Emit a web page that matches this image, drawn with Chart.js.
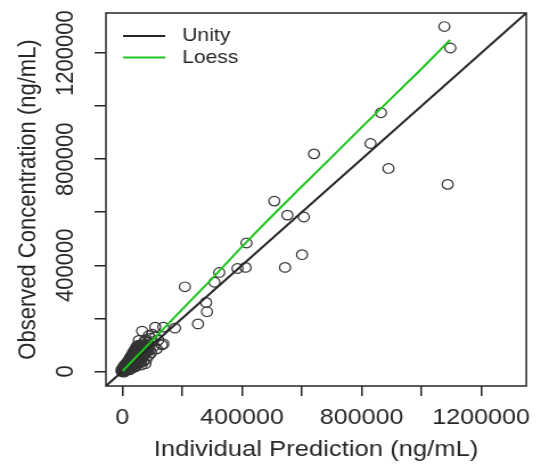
<!DOCTYPE html>
<html>
<head>
<meta charset="utf-8">
<script src="https://cdn.jsdelivr.net/npm/chart.js@4.4.1/dist/chart.umd.min.js"></script>
<style>
  html, body { margin: 0; padding: 0; background: #fff; overflow: hidden; }
  /* plot is laid out at 475px and widened to fill the 541px frame */
  #wrap { width: 475px; height: 465px; transform: scaleX(1.139); transform-origin: 0 0; }
  canvas { display: block; }
</style>
</head>
<body>
<div id="wrap"><canvas id="chart-obs-pred" width="475" height="465"></canvas></div>
<script>
// ── Axis setup ──────────────────────────────────────────────────────────────
const AXIS_MIN = -55000;
const AXIS_MAX = 1351000;
const TICK_VALUES = [0, 200000, 400000, 600000, 800000, 1000000, 1200000];
const LABELED_TICKS = [0, 400000, 800000, 1200000];

// ── Observed vs individual prediction (ng/mL): [prediction, observed] ───────
const POINTS = [
  [1000, 2000], [2000, 500], [3000, 5000], [4000, 3000], [5000, 8000], [6000, 4000],
  [7000, 9000], [8000, 6000], [9000, 12000], [10000, 7000], [11000, 14000], [12000, 10000],
  [13000, 16000], [14000, 12000], [15000, 19000], [16000, 13000], [17000, 21000], [18000, 15000],
  [19000, 23000], [20000, 18000], [21000, 26000], [22000, 19000], [23000, 28000], [24000, 22000],
  [25000, 31000], [26000, 24000], [27000, 33000], [28000, 25000], [29000, 36000], [30000, 27000],
  [31000, 38000], [32000, 30000], [33000, 40000], [34000, 31000], [35000, 44000], [36000, 34000],
  [37000, 47000], [38000, 36000], [39000, 50000], [40000, 38000], [42000, 52000], [43000, 40000],
  [44000, 55000], [45000, 43000], [47000, 58000], [48000, 46000], [50000, 62000], [51000, 48000],
  [53000, 65000], [54000, 51000], [56000, 70000], [58000, 55000], [60000, 74000], [62000, 60000],
  [64000, 80000], [66000, 63000], [68000, 85000], [70000, 68000], [72000, 92000], [75000, 72000],
  [-3000, 1000], [0, -2000], [500, 6000], [2500, 10000], [6000, 15000], [8000, 18000],
  [12000, 22000], [15000, 27000], [18000, 32000], [22000, 36000], [25000, 42000], [28000, 47000],
  [30000, 52000], [33000, 58000], [36000, 64000], [40000, 70000], [45000, 78000], [48000, 86000],
  [52000, 92000], [8000, 1000], [12000, 4000], [16000, 7000], [20000, 10000], [24000, 14000],
  [30000, 18000], [35000, 22000], [40000, 26000], [46000, 30000], [52000, 36000], [58000, 42000],
  [62000, 46000], [68000, 52000], [55000, 95000], [60000, 100000], [65000, 98000], [70000, 105000],
  [80000, 90000], [85000, 110000], [78000, 120000], [90000, 95000], [95000, 125000], [100000, 112000],
  [45000, 20000], [55000, 30000], [62000, 35000], [84000, 75000], [92000, 80000], [105000, 95000],
  [110000, 130000], [120000, 118000],
  [-2000, 8000], [1500, 13000], [4000, 17000], [7000, 23000], [10000, 26000], [13000, 30000],
  [17000, 35000], [20000, 41000], [23000, 46000], [26000, 52000], [29000, 57000], [32000, 63000],
  [35000, 69000], [38000, 75000], [42000, 82000], [46000, 90000], [50000, 98000], [3000, -1000],
  [6000, -3000], [10000, 2000], [14000, 5000], [18000, 9000], [22000, 13000], [27000, 16000],
  [32000, 21000], [37000, 27000], [42000, 32000], [48000, 37000], [54000, 42000], [60000, 50000],
  [66000, 56000], [72000, 62000], [78000, 68000], [74000, 82000], [78000, 95000], [82000, 100000],
  [86000, 88000], [58000, 85000], [62000, 90000], [66000, 76000], [70000, 80000], [50000, 75000],
  [24000, 6000], [34000, 12000], [44000, 18000], [64000, 24000], [70000, 38000], [80000, 45000],
  [88000, 60000], [96000, 70000], [100000, 140000], [75000, 115000],
  [77000, 29000], [66000, 152000], [55000, 117000], [88000, 135000], [110000, 167000], [137000, 167000],
  [176000, 163000], [115000, 85000], [137000, 104000], [132000, 100000], [253000, 179000], [283000, 225000],
  [280000, 260000], [209000, 319000], [308000, 336000], [324000, 373000], [385000, 388000], [412000, 392000],
  [415000, 484000], [508000, 642000], [552000, 589000], [607000, 582000], [601000, 440000], [544000, 392000],
  [641000, 820000], [830000, 859000], [865000, 975000], [890000, 765000], [1077000, 1300000], [1097000, 1219000],
  [1088000, 705000],
];

// ── Loess smooth ────────────────────────────────────────────────────────────
const LOESS_X = [1000, 100000, 200000, 300000, 400000, 484000, 600000, 700000, 800000, 900000, 1000000, 1096000];
const LOESS_Y = [1500, 117000, 234000, 350000, 470000, 567000, 697000, 808000, 920000, 1030000, 1140000, 1250000];

const LEGEND_ORDER = ['Unity', 'Loess'];

const FONT_FAMILY = "'Liberation Sans', Arial, sans-serif";
const INK = '#262626';
const AXIS_FONT = { family: FONT_FAMILY, size: 22 };

// R-style closed frame round the plotting region
const frameBox = {
  id: 'frameBox',
  afterDatasetsDraw(chart) {
    const { ctx, chartArea: a } = chart;
    ctx.save();
    ctx.strokeStyle = INK;
    ctx.lineWidth = 1.5;
    ctx.strokeRect(a.left, a.top, a.right - a.left, a.bottom - a.top);
    ctx.restore();
  },
};

// Legend inside the top-left corner of the plot, line key + label
const insetLegend = {
  id: 'insetLegend',
  afterDraw(chart) {
    const { ctx, chartArea: a } = chart;
    const items = LEGEND_ORDER.map(name => chart.data.datasets.find(d => d.label === name));
    ctx.save();
    ctx.font = `18.5px ${FONT_FAMILY}`;
    ctx.textBaseline = 'middle';
    items.forEach((d, i) => {
      const y = a.top + 23 + i * 21.6;
      ctx.strokeStyle = d.borderColor;
      ctx.lineWidth = 2;
      ctx.beginPath();
      ctx.moveTo(a.left + 15, y);
      ctx.lineTo(a.left + 52, y);
      ctx.stroke();
      ctx.fillStyle = INK;
      ctx.fillText(d.label, a.left + 67, y);
    });
    ctx.restore();
  },
};

new Chart(document.getElementById('chart-obs-pred'), {
  type: 'scatter',
  data: {
    datasets: [
      {
        label: 'Loess',
        type: 'line',
        data: LOESS_X.map((x, i) => ({ x, y: LOESS_Y[i] })),
        borderColor: '#1ec41e',
        borderWidth: 2,
        pointRadius: 0,
        fill: false,
        tension: 0,
        order: 0,
      },
      {
        label: 'Unity',
        type: 'line',
        data: [{ x: AXIS_MIN, y: AXIS_MIN }, { x: AXIS_MAX, y: AXIS_MAX }],
        borderColor: INK,
        borderWidth: 2,
        pointRadius: 0,
        fill: false,
        order: 1,
      },
      {
        label: 'Observed',
        data: POINTS.map(([x, y]) => ({ x, y })),
        pointStyle: 'circle',
        pointRadius: 4.8,
        backgroundColor: 'rgba(0,0,0,0)',
        borderColor: '#333',
        borderWidth: 1.2,
        order: 2,
      },
    ],
  },
  options: {
    responsive: false,
    devicePixelRatio: 1,
    animation: false,
    layout: { padding: { top: 13, right: 7, left: 0, bottom: 0 } },
    plugins: { legend: { display: false }, tooltip: { enabled: false } },
    scales: {
      x: {
        type: 'linear',
        min: AXIS_MIN,
        max: AXIS_MAX,
        afterBuildTicks: s => { s.ticks = TICK_VALUES.map(value => ({ value })); },
        afterFit: s => { s.height = 79; },
        border: { display: false },
        grid: { drawOnChartArea: false, drawTicks: true, tickLength: 10, color: INK, lineWidth: 1.5 },
        ticks: {
          autoSkip: false,
          maxRotation: 0,
          padding: 9,
          color: INK,
          font: AXIS_FONT,
          callback: v => (LABELED_TICKS.includes(v) ? String(v) : ''),
        },
        title: {
          display: true,
          text: 'Individual Prediction (ng/mL)',
          color: INK,
          font: { family: FONT_FAMILY, size: 22.5 },
          padding: { top: 0, bottom: 2 },
        },
      },
      y: {
        type: 'linear',
        min: AXIS_MIN,
        max: AXIS_MAX,
        afterBuildTicks: s => { s.ticks = TICK_VALUES.map(value => ({ value })); },
        afterFit: s => { s.width = 93; },
        border: { display: false },
        grid: { drawOnChartArea: false, drawTicks: true, tickLength: 10, color: INK, lineWidth: 1.5 },
        ticks: {
          autoSkip: false,
          minRotation: 90,
          maxRotation: 90,
          crossAlign: 'center',
          padding: -18,
          color: INK,
          font: AXIS_FONT,
          callback: v => (LABELED_TICKS.includes(v) ? String(v) : ''),
        },
        title: {
          display: true,
          text: 'Observed Concentration (ng/mL)',
          color: INK,
          font: AXIS_FONT,
          padding: { top: 12, bottom: 0 },
        },
      },
    },
  },
  plugins: [frameBox, insetLegend],
});
</script>
</body>
</html>
